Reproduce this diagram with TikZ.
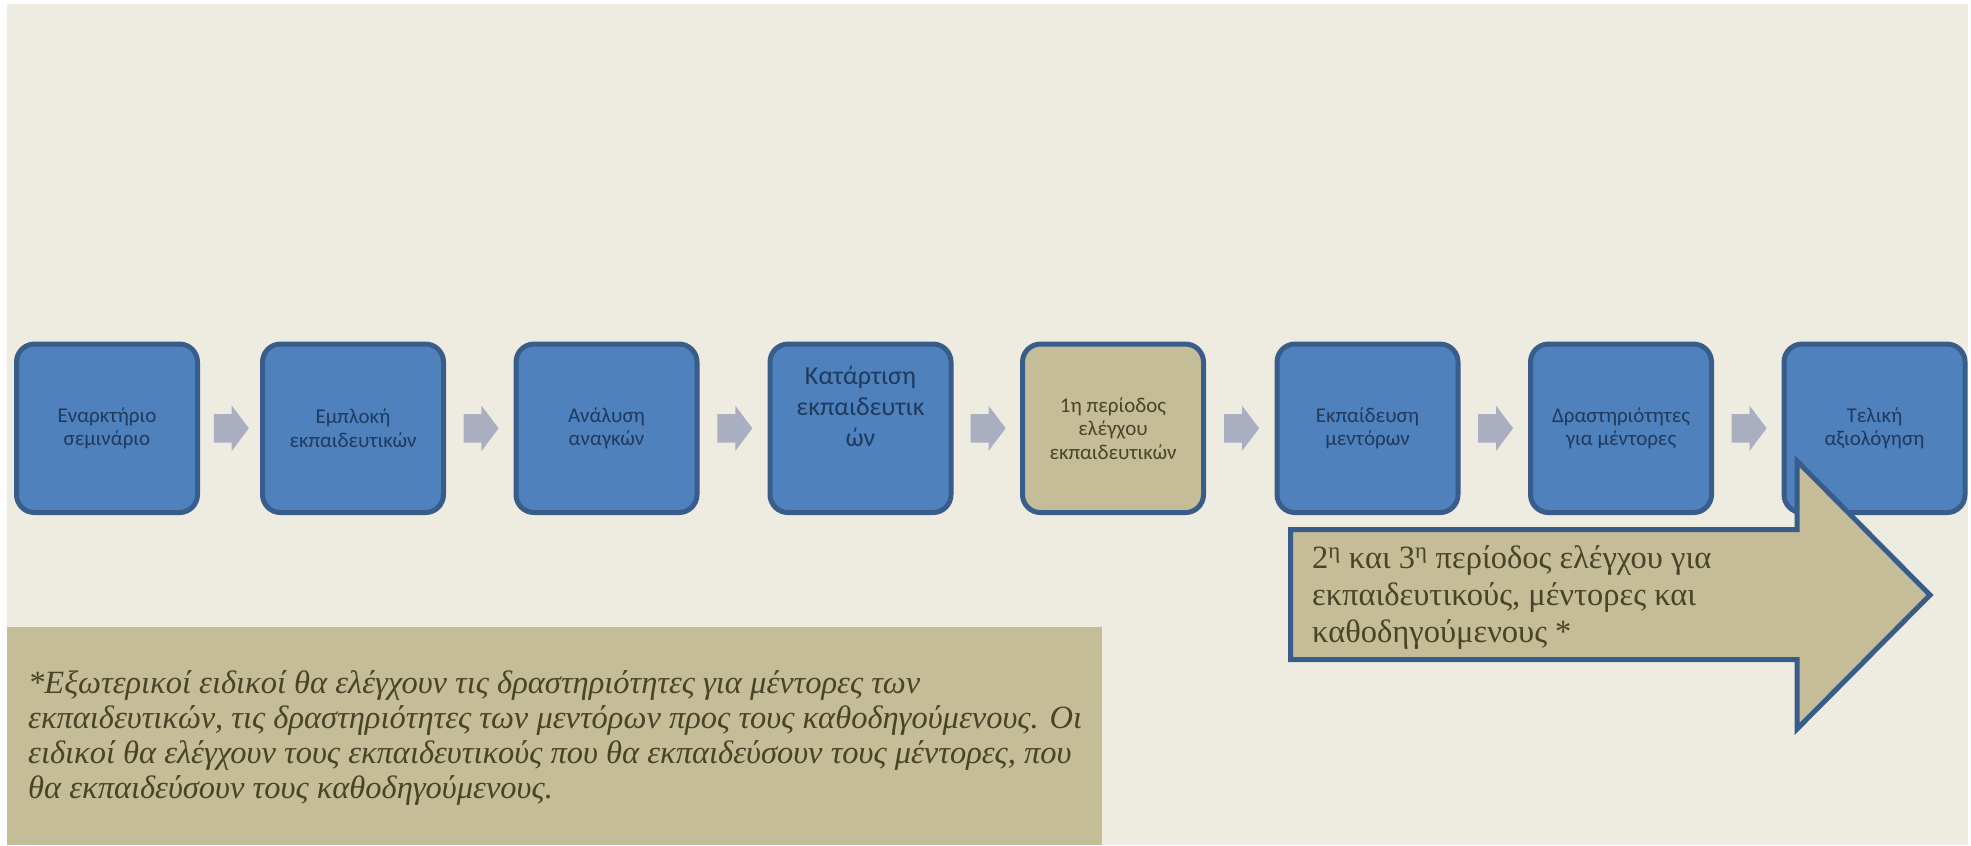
\documentclass[tikz,border=0pt]{standalone}
\usepackage{fontspec}
\setmainfont{Liberation Serif}
\newfontfamily\carl{Carlito}
\usetikzlibrary{shapes.arrows,calc}
\definecolor{bgc}{HTML}{EEEBE0}
\definecolor{boxfill}{HTML}{4F81BD}
\definecolor{boxline}{HTML}{385D8A}
\definecolor{tanc}{HTML}{C4BD97}
\definecolor{arrowc}{HTML}{A9AFC0}
\definecolor{navytext}{HTML}{1F3A5C}
\definecolor{browntext}{HTML}{494429}
\tikzset{
  stage/.style={draw=boxline, line width=5pt, fill=boxfill, rounded corners=18pt,
    minimum width=181pt, minimum height=168.5pt, inner sep=0pt, text=navytext,
    font=\carl\fontsize{21}{23.5}\selectfont, align=center},
  tanstage/.style={stage, fill=tanc, text=browntext},
  flowarrow/.style={single arrow, fill=arrowc, draw=none, inner xsep=0pt, inner ysep=14pt,
    single arrow head extend=8.5pt, single arrow tip angle=106, minimum height=35pt, anchor=center, xshift=-4pt},
  boxtext/.style={inner sep=0pt, text=navytext, align=center},
}
\begin{document}
\begin{tikzpicture}[x=1pt,y=-1pt]
\useasboundingbox (0,0) rectangle (1971,846);
\fill[white] (0,0) rectangle (1971,846);
\fill[bgc] (7,4) rectangle (1968,845);
% stages
\node[stage] (b1) at (107,428.3) {Εναρκτήριο\\σεμινάριο};
\node[stage] (b2) at (353,428.3) {Εμπλοκή\\εκπαιδευτικών};
\node[stage] (b3) at (606.5,428.3) {Ανάλυση\\αναγκών};
\node[stage] (b4) at (860.5,428.3) {};
\node[boxtext, font=\carl\fontsize{26}{31}\selectfont] (t4) at (860.5,406) {Κατάρτιση\\εκπαιδευτικ\\ών};
\node[tanstage] (b5) at (1113,428.3) {1η περίοδος\\ελέγχου\\εκπαιδευτικών};
\node[stage] (b6) at (1367.5,428.3) {Εκπαίδευση\\μεντόρων};
\node[stage] (b7) at (1621,428.3) {Δραστηριότητες\\για μέντορες};
\node[stage] (b8) at (1874.5,428.3) {Τελική\\αξιολόγηση};
% flow arrows
\node[flowarrow] (a1) at ($(b1.center)!0.5!(b2.center)$) {};
\node[flowarrow] (a2) at ($(b2.center)!0.5!(b3.center)$) {};
\node[flowarrow] (a3) at ($(b3.center)!0.5!(b4.center)$) {};
\node[flowarrow] (a4) at ($(b4.center)!0.5!(b5.center)$) {};
\node[flowarrow] (a5) at ($(b5.center)!0.5!(b6.center)$) {};
\node[flowarrow] (a6) at ($(b6.center)!0.5!(b7.center)$) {};
\node[flowarrow] (a7) at ($(b7.center)!0.5!(b8.center)$) {};
% big arrow
\draw[fill=tanc, draw=boxline, line width=5pt, line join=miter]
  (1290.5,529.5) -- (1797,529.5) -- (1797,461) -- (1930,595) -- (1797,729) -- (1797,659.5) -- (1290.5,659.5) -- cycle;
\node[anchor=base west, inner sep=0pt, text=browntext, font=\fontsize{32.5}{37}\selectfont] (bigtext) at (1312,568)
  {\parbox[t]{480pt}{\raggedright 2\textsuperscript{η} και 3\textsuperscript{η} περίοδος ελέγχου για\\εκπαιδευτικούς, μέντορες και\\καθοδηγούμενους *}};
% note
\fill[tanc] (7,627) rectangle (1102,845);
\node[anchor=base west, inner sep=0pt, text=browntext, font=\itshape\fontsize{32.5}{35}\selectfont] (note) at (28,693)
  {\parbox[t]{1070pt}{\raggedright *Εξωτερικοί ειδικοί θα ελέγχουν τις δραστηριότητες για μέντορες των\\εκπαιδευτικών, τις δραστηριότητες των μεντόρων προς τους καθοδηγούμενους. Οι\\ειδικοί θα ελέγχουν τους εκπαιδευτικούς που θα εκπαιδεύσουν τους μέντορες, που\\θα εκπαιδεύσουν τους καθοδηγούμενους.}};
\end{tikzpicture}
\end{document}
